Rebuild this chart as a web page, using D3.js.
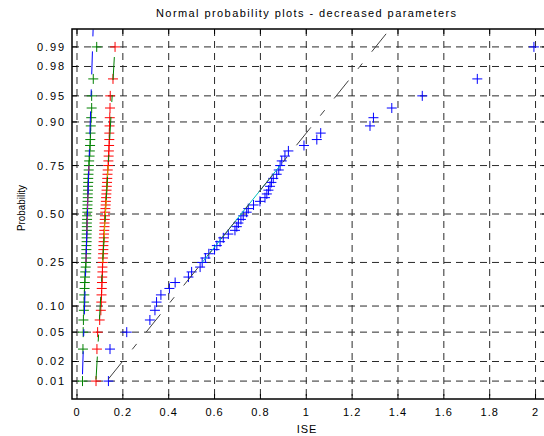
<!DOCTYPE html>
<html>
<head>
<meta charset="utf-8">
<script src="https://cdn.jsdelivr.net/npm/d3@7"></script>
<style>
body { margin: 0; background: #fff; }
text { font-family: "Liberation Sans", Arial, sans-serif; fill: #000; }
</style>
</head>
<body>
<div id="chart"></div>
<script>
// ISE samples (sorted), one array per column of the normplot
const iseWide = [0.137, 0.144, 0.217, 0.318, 0.340, 0.347, 0.366, 0.403, 0.428, 0.486,
    0.500, 0.537, 0.546, 0.560, 0.575, 0.600, 0.610, 0.624, 0.638, 0.660,
    0.689, 0.697, 0.704, 0.715, 0.725, 0.740, 0.747, 0.770, 0.798, 0.820,
    0.828, 0.835, 0.842, 0.848, 0.856, 0.871, 0.880, 0.886, 0.893, 0.907,
    0.922, 0.990, 1.046, 1.063, 1.278, 1.293, 1.373, 1.506, 1.746, 1.993];
const iseLow = [0.024, 0.026, 0.027, 0.028, 0.030, 0.031, 0.032, 0.033, 0.034, 0.035,
    0.036, 0.038, 0.039, 0.040, 0.040, 0.041, 0.041, 0.042, 0.042, 0.042,
    0.043, 0.043, 0.043, 0.044, 0.044, 0.045, 0.045, 0.046, 0.046, 0.047,
    0.047, 0.048, 0.048, 0.049, 0.049, 0.050, 0.051, 0.052, 0.053, 0.055,
    0.056, 0.057, 0.058, 0.059, 0.060, 0.062, 0.064, 0.064, 0.071, 0.086];
const iseMid = [0.083, 0.087, 0.090, 0.099, 0.104, 0.106, 0.107, 0.108, 0.109, 0.110,
    0.111, 0.111, 0.112, 0.113, 0.114, 0.115, 0.115, 0.116, 0.117, 0.118,
    0.119, 0.120, 0.120, 0.121, 0.122, 0.123, 0.124, 0.125, 0.126, 0.127,
    0.128, 0.129, 0.130, 0.131, 0.132, 0.133, 0.134, 0.136, 0.137, 0.138,
    0.139, 0.140, 0.141, 0.141, 0.142, 0.143, 0.144, 0.145, 0.157, 0.166];

const probTicks = [0.01, 0.02, 0.05, 0.10, 0.25, 0.50, 0.75, 0.90, 0.95, 0.98, 0.99];
const probLabels = ["0.01", "0.02", "0.05", "0.10", "0.25", "0.50", "0.75", "0.90", "0.95", "0.98", "0.99"];
const xTicks = [0, 0.2, 0.4, 0.6, 0.8, 1, 1.2, 1.4, 1.6, 1.8, 2];
const xTickLabels = ["0", "0.2", "0.4", "0.6", "0.8", "1", "1.2", "1.4", "1.6", "1.8", "2"];

// inverse standard normal (Acklam)
function norminv(p) {
    const a = [-3.969683028665376e+01, 2.209460984245205e+02, -2.759285104469687e+02, 1.383577518672690e+02, -3.066479806614716e+01, 2.506628277459239e+00];
    const b = [-5.447609879822406e+01, 1.615858368580409e+02, -1.556989798598866e+02, 6.680131188771972e+01, -1.328068155288572e+01];
    const c = [-7.784894002430293e-03, -3.223964580411365e-01, -2.400758277161838e+00, -2.549732539343734e+00, 4.374664141464968e+00, 2.938163982698783e+00];
    const d = [7.784695709041462e-03, 3.224671290700398e-01, 2.445134137142996e+00, 3.754408661907416e+00];
    const pl = 0.02425;
    let q, r;
    if (p < pl) {
        q = Math.sqrt(-2 * Math.log(p));
        return (((((c[0]*q+c[1])*q+c[2])*q+c[3])*q+c[4])*q+c[5]) / ((((d[0]*q+d[1])*q+d[2])*q+d[3])*q+1);
    }
    if (p > 1 - pl) {
        q = Math.sqrt(-2 * Math.log(1 - p));
        return -(((((c[0]*q+c[1])*q+c[2])*q+c[3])*q+c[4])*q+c[5]) / ((((d[0]*q+d[1])*q+d[2])*q+d[3])*q+1);
    }
    q = p - 0.5; r = q * q;
    return (((((a[0]*r+a[1])*r+a[2])*r+a[3])*r+a[4])*r+a[5])*q / (((((b[0]*r+b[1])*r+b[2])*r+b[3])*r+b[4])*r+1);
}

// percentile the way matlab's prctile does it
function prctile(sorted, p) {
    const n = sorted.length;
    let pos = p * n + 0.5;
    if (pos <= 1) return sorted[0];
    if (pos >= n) return sorted[n - 1];
    const i = Math.floor(pos), f = pos - i;
    return sorted[i - 1] + f * (sorted[i] - sorted[i - 1]);
}

const width = 544, height = 436;
const box = { left: 72, top: 29, right: 547, bottom: 399 };

const svg = d3.select("#chart").append("svg")
    .attr("width", width)
    .attr("height", height);

const n = iseWide.length;
const x = d3.scaleLinear().domain([-0.0218, 2.05]).range([box.left, box.right]);
const y = d3.scaleLinear().domain([norminv(0.25 / n), norminv(1 - 0.25 / n)]).range([box.bottom, box.top]);

svg.append("clipPath").attr("id", "plotclip")
    .append("rect")
    .attr("x", box.left).attr("y", box.top)
    .attr("width", box.right - box.left).attr("height", box.bottom - box.top);

// grid
const grid = svg.append("g").attr("stroke", "#2a2a2a").attr("stroke-width", 1).attr("stroke-dasharray", "7,5");
xTicks.forEach(t => {
    grid.append("line")
        .attr("x1", x(t)).attr("x2", x(t))
        .attr("y1", box.top).attr("y2", box.bottom);
});
probTicks.forEach(p => {
    grid.append("line")
        .attr("x1", box.left).attr("x2", box.right)
        .attr("y1", y(norminv(p))).attr("y2", y(norminv(p)));
});

// series: marker colour, quartile line colour, extension line colour
const series = [
    { data: iseWide, mark: "#0000ff", solid: "#00bfbf", ext: "#404040" },
    { data: iseLow, mark: "#008000", solid: "#bf00bf", ext: "#0000ff" },
    { data: iseMid, mark: "#ff0000", solid: "#bfbf00", ext: "#008000" }
];

const plot = svg.append("g").attr("clip-path", "url(#plotclip)");

series.forEach(s => {
    const g = plot.append("g").attr("stroke", s.mark).attr("stroke-width", 1).attr("fill", "none");
    s.data.forEach((v, i) => {
        const px = x(v), py = y(norminv((i + 0.5) / n));
        g.append("path").attr("d", `M${px - 5},${py}h10M${px},${py - 5}v10`);
    });
});

series.forEach(s => {
    const q1x = prctile(s.data, 0.25), q3x = prctile(s.data, 0.75);
    const q1 = norminv(0.25), q3 = norminv(0.75);
    const slope = (q3 - q1) / (q3x - q1x);
    const minx = s.data[0], maxx = s.data[s.data.length - 1];
    const y1 = q1 - slope * (q1x - minx), y2 = q3 + slope * (maxx - q3x);
    plot.append("line")
        .attr("x1", x(q1x)).attr("y1", y(q1)).attr("x2", x(q3x)).attr("y2", y(q3))
        .attr("stroke", s.solid).attr("stroke-width", 1);
    plot.append("line")
        .attr("x1", x(minx)).attr("y1", y(y1)).attr("x2", x(maxx)).attr("y2", y(y2))
        .attr("stroke", s.ext).attr("stroke-width", 1)
        .attr("stroke-dasharray", "23,15,7,15");
});

// axes box and ticks
const ax = svg.append("g").attr("stroke", "#000").attr("fill", "none");
ax.append("rect")
    .attr("x", box.left).attr("y", box.top)
    .attr("width", box.right - box.left).attr("height", box.bottom - box.top)
    .attr("stroke-width", 1.5);
xTicks.forEach(t => {
    ax.append("line").attr("x1", x(t)).attr("x2", x(t)).attr("y1", box.bottom).attr("y2", box.bottom - 5);
    ax.append("line").attr("x1", x(t)).attr("x2", x(t)).attr("y1", box.top).attr("y2", box.top + 5);
});
probTicks.forEach(p => {
    ax.append("line").attr("x1", box.left).attr("x2", box.left + 5).attr("y1", y(norminv(p))).attr("y2", y(norminv(p)));
    ax.append("line").attr("x1", box.right).attr("x2", box.right - 5).attr("y1", y(norminv(p))).attr("y2", y(norminv(p)));
});

// tick labels
svg.append("g").selectAll("text")
    .data(probTicks)
    .join("text")
    .attr("x", 64)
    .attr("y", d => y(norminv(d)))
    .attr("dy", "0.36em")
    .attr("text-anchor", "end")
    .attr("textLength", 27)
    .attr("lengthAdjust", "spacing")
    .style("font-size", "11px")
    .text((d, i) => probLabels[i]);

svg.append("g").selectAll("text")
    .data(xTicks)
    .join("text")
    .attr("x", d => x(d))
    .attr("y", 416)
    .attr("text-anchor", "middle")
    .style("font-size", "11px")
    .style("letter-spacing", "1px")
    .text((d, i) => xTickLabels[i]);

// titles
svg.append("text")
    .attr("x", 306).attr("y", 17)
    .attr("text-anchor", "middle")
    .attr("textLength", 300)
    .attr("lengthAdjust", "spacing")
    .style("font-size", "11px")
    .text("Normal probability plots - decreased parameters");

svg.append("text")
    .attr("x", 307).attr("y", 433)
    .attr("text-anchor", "middle")
    .style("font-size", "11px")
    .style("letter-spacing", "1px")
    .text("ISE");

svg.append("text")
    .attr("transform", "translate(25,208) rotate(-90)")
    .attr("text-anchor", "middle")
    .attr("textLength", 46)
    .attr("lengthAdjust", "spacingAndGlyphs")
    .style("font-size", "11px")
    .text("Probability");
</script>
</body>
</html>
